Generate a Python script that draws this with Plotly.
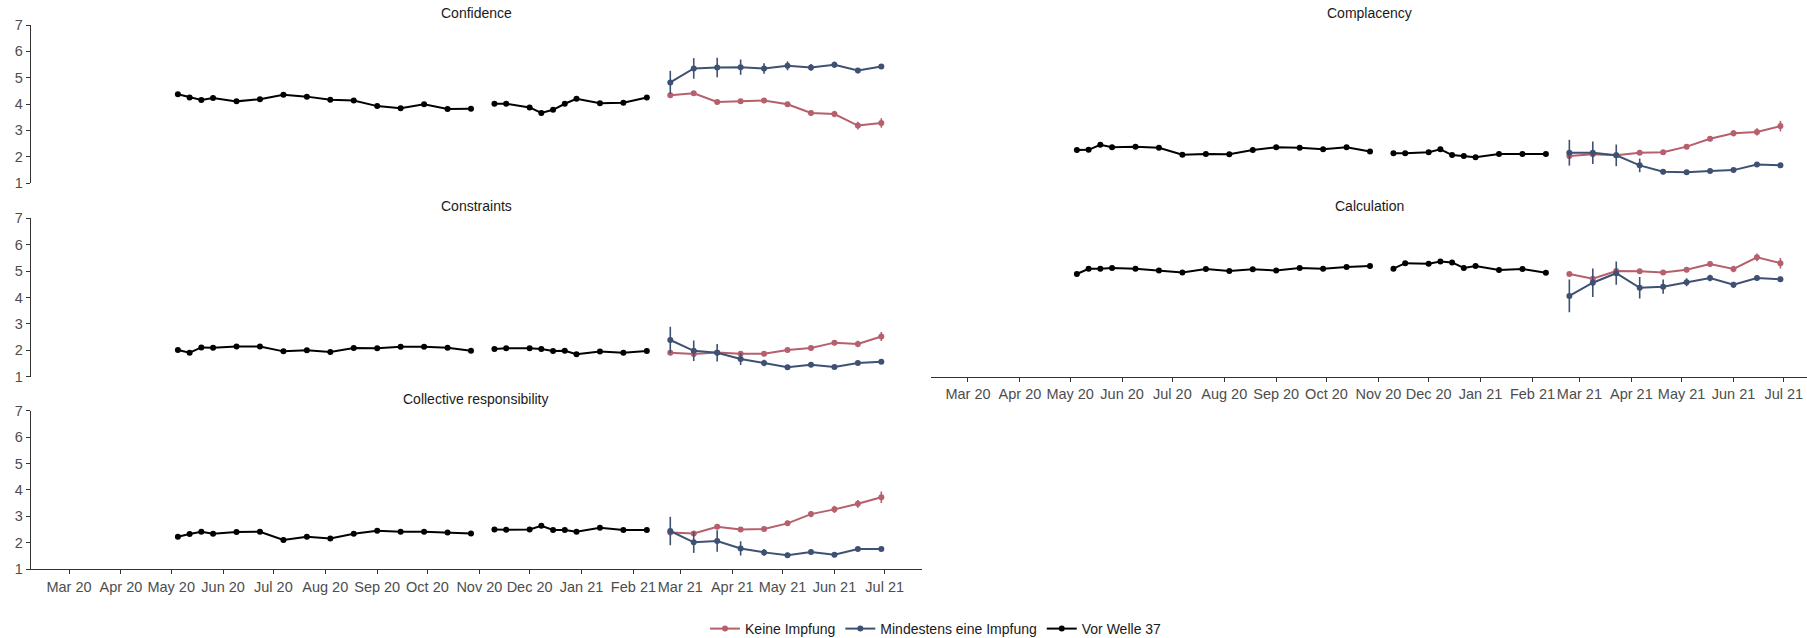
import plotly.graph_objects as go

# Survey dates (weekly / bi-weekly waves)
dates_before = ["2020-05-05", "2020-05-12", "2020-05-19", "2020-05-26", "2020-06-09",
                "2020-06-23", "2020-07-07", "2020-07-21", "2020-08-04", "2020-08-18",
                "2020-09-01", "2020-09-15", "2020-09-29", "2020-10-13", "2020-10-27",
                "2020-11-03", "2020-11-10", "2020-11-17", "2020-12-01", "2020-12-08",
                "2020-12-15", "2020-12-22", "2020-12-29", "2021-01-12", "2021-01-26",
                "2021-02-09"]
dates_split = ["2021-02-23", "2021-03-09", "2021-03-23", "2021-04-06", "2021-04-20",
               "2021-05-04", "2021-05-18", "2021-06-01", "2021-06-15", "2021-06-29"]

# Means before wave 37 (None = wave without data)
conf_before = [4.37, 4.25, 4.15, 4.23, 4.10, 4.18, 4.35, 4.28, 4.16, 4.13, 3.92, 3.84, 3.99,
               3.81, 3.82, None, 4.01, 4.01, 3.87, 3.66, 3.78, 4.01, 4.20, 4.03, 4.05, 4.25]
constr_before = [2.01, 1.91, 2.11, 2.10, 2.14, 2.14, 1.96, 2.00, 1.94, 2.09, 2.08, 2.13, 2.13,
                 2.10, 1.98, None, 2.05, 2.08, 2.08, 2.05, 1.97, 1.98, 1.85, 1.95, 1.91, 1.97]
coll_before = [2.22, 2.33, 2.41, 2.34, 2.40, 2.41, 2.10, 2.22, 2.16, 2.34, 2.45, 2.41, 2.41,
               2.38, 2.35, None, 2.50, 2.49, 2.50, 2.64, 2.48, 2.48, 2.41, 2.56, 2.48, 2.48]
compl_before = [2.25, 2.26, 2.45, 2.36, 2.38, 2.34, 2.07, 2.10, 2.09, 2.25, 2.36, 2.34, 2.28,
                2.36, 2.20, None, 2.13, 2.13, 2.17, 2.28, 2.06, 2.03, 1.98, 2.10, 2.10, 2.10]
calc_before = [4.89, 5.09, 5.09, 5.12, 5.09, 5.02, 4.95, 5.08, 5.00, 5.07, 5.02, 5.12, 5.09,
               5.16, 5.19, None, 5.09, 5.30, 5.28, 5.36, 5.33, 5.12, 5.19, 5.04, 5.08, 4.94]
err_before = [0.06] * len(dates_before)

# Means from wave 37 on, by vaccination status
conf_none = [4.33, 4.41, 4.08, 4.10, 4.13, 3.99, 3.66, 3.62, 3.18, 3.28]
conf_none_err = [0.07, 0.08, 0.08, 0.08, 0.08, 0.09, 0.10, 0.12, 0.15, 0.18]
conf_vacc = [4.82, 5.35, 5.39, 5.40, 5.35, 5.45, 5.39, 5.49, 5.27, 5.42]
conf_vacc_err = [0.44, 0.39, 0.37, 0.29, 0.20, 0.17, 0.13, 0.12, 0.10, 0.09]

constr_none = [1.91, 1.86, 1.92, 1.87, 1.87, 2.01, 2.09, 2.29, 2.24, 2.52]
constr_none_err = [0.05, 0.06, 0.06, 0.07, 0.07, 0.08, 0.09, 0.10, 0.12, 0.17]
constr_vacc = [2.39, 1.98, 1.91, 1.67, 1.52, 1.36, 1.45, 1.37, 1.52, 1.57]
constr_vacc_err = [0.50, 0.39, 0.33, 0.23, 0.12, 0.08, 0.07, 0.07, 0.07, 0.06]

coll_none = [2.38, 2.35, 2.60, 2.50, 2.52, 2.73, 3.08, 3.26, 3.47, 3.72]
coll_none_err = [0.07, 0.08, 0.08, 0.08, 0.09, 0.10, 0.12, 0.14, 0.15, 0.22]
coll_vacc = [2.44, 2.01, 2.06, 1.78, 1.63, 1.52, 1.64, 1.54, 1.76, 1.76]
coll_vacc_err = [0.54, 0.40, 0.41, 0.27, 0.13, 0.10, 0.08, 0.08, 0.08, 0.08]

compl_none = [2.03, 2.09, 2.05, 2.15, 2.17, 2.38, 2.68, 2.89, 2.94, 3.16]
compl_none_err = [0.06, 0.07, 0.07, 0.08, 0.08, 0.09, 0.10, 0.12, 0.14, 0.20]
compl_vacc = [2.15, 2.15, 2.05, 1.67, 1.43, 1.41, 1.46, 1.49, 1.70, 1.67]
compl_vacc_err = [0.49, 0.43, 0.41, 0.26, 0.10, 0.08, 0.07, 0.07, 0.07, 0.06]

calc_none = [4.89, 4.71, 5.00, 4.99, 4.95, 5.05, 5.27, 5.08, 5.52, 5.30]
calc_none_err = [0.07, 0.08, 0.08, 0.08, 0.08, 0.09, 0.10, 0.12, 0.15, 0.20]
calc_vacc = [4.06, 4.56, 4.92, 4.37, 4.41, 4.58, 4.74, 4.48, 4.74, 4.69]
calc_vacc_err = [0.62, 0.54, 0.44, 0.41, 0.27, 0.15, 0.12, 0.12, 0.10, 0.10]

panel_titles = ["Confidence", "Constraints", "Collective responsibility",
                "Complacency", "Calculation"]
series_names = ["Keine Impfung", "Mindestens eine Impfung", "Vor Welle 37"]
month_ticks = ["2020-03-01", "2020-04-01", "2020-05-01", "2020-06-01", "2020-07-01",
               "2020-08-01", "2020-09-01", "2020-10-01", "2020-11-01", "2020-12-01",
               "2021-01-01", "2021-02-01", "2021-03-01", "2021-04-01", "2021-05-01",
               "2021-06-01", "2021-07-01"]
month_labels = ["Mar 20", "Apr 20", "May 20", "Jun 20", "Jul 20", "Aug 20", "Sep 20",
                "Oct 20", "Nov 20", "Dec 20", "Jan 21", "Feb 21", "Mar 21", "Apr 21",
                "May 21", "Jun 21", "Jul 21"]

RED = "#B65F6D"
BLUE = "#3E5172"
BLACK = "#000000"
FONT = "Liberation Sans, Arial, sans-serif"
W, H = 1807, 638

panels = [
    (conf_before, conf_none, conf_none_err, conf_vacc, conf_vacc_err),
    (constr_before, constr_none, constr_none_err, constr_vacc, constr_vacc_err),
    (coll_before, coll_none, coll_none_err, coll_vacc, coll_vacc_err),
    (compl_before, compl_none, compl_none_err, compl_vacc, compl_vacc_err),
    (calc_before, calc_none, calc_none_err, calc_vacc, calc_vacc_err),
]

# Panel geometry in pixels: (x0, x1, y_top, y_bottom)
left_x = (31, 922)
right_x = (931, 1807)
rows = [(25, 183), (218.3, 376.7), (410.7, 569)]
geom = [
    (left_x, rows[0]), (left_x, rows[1]), (left_x, rows[2]),
    (right_x, rows[0]), (right_x, rows[1]),
]
left_range = ["2020-02-07 07:00", "2021-07-23 07:00"]
right_range = ["2020-02-07 22:00", "2021-07-14 21:00"]

fig = go.Figure()


def add_series(i, x, y, err, color, name, show):
    ax = "" if i == 0 else str(i + 1)
    fig.add_trace(go.Scatter(
        x=x, y=y, mode="lines+markers", name=name,
        legendgroup=name, showlegend=show,
        line=dict(color=color, width=2),
        marker=dict(color=color, size=6, symbol="circle"),
        error_y=dict(type="data", array=err, visible=True, color=color,
                     thickness=1.6, width=0),
        xaxis="x" + ax, yaxis="y" + ax, connectgaps=False,
        hoverinfo="x+y",
    ))


for i, (before, none_v, none_e, vacc_v, vacc_e) in enumerate(panels):
    show = i == 0
    add_series(i, dates_split, none_v, none_e, RED, series_names[0], show)
    add_series(i, dates_split, vacc_v, vacc_e, BLUE, series_names[1], show)
    add_series(i, dates_before, before, err_before, BLACK, series_names[2], show)

layout = dict(
    width=W, height=H,
    margin=dict(l=0, r=0, t=0, b=0, autoexpand=False),
    paper_bgcolor="white", plot_bgcolor="white",
    font=dict(family=FONT, size=14, color="#1A1A1A"),
    showlegend=True,
    legend=dict(orientation="h", x=0.518, y=1 - 629 / H, xanchor="center",
                yanchor="middle", font=dict(size=14, color="#1A1A1A"),
                itemwidth=30, tracegroupgap=0, bgcolor="rgba(0,0,0,0)"),
    annotations=[],
)

for i, ((x0, x1), (yt, yb)) in enumerate(geom):
    ax = "" if i == 0 else str(i + 1)
    bottom = i in (2, 4)
    left = i < 3
    layout["xaxis" + ax] = dict(
        domain=[x0 / W, x1 / W], anchor="y" + ax, type="date",
        range=left_range if left else right_range,
        showgrid=False, zeroline=False,
        showline=bottom, linecolor="#333333", linewidth=1.3,
        ticks="outside" if bottom else "", ticklen=4, tickwidth=1.2,
        tickcolor="#333333", tickangle=0, ticklabeloverflow="allow",
        tickvals=month_ticks, ticktext=month_labels,
        showticklabels=bottom,
        tickfont=dict(size=14.5, color="#4D4D4D", family=FONT),
    )
    layout["yaxis" + ax] = dict(
        domain=[1 - yb / H, 1 - yt / H], anchor="x" + ax,
        range=[1, 7], showgrid=False, zeroline=False,
        showline=left, linecolor="#333333", linewidth=1.3,
        ticks="outside" if left else "", ticklen=4, tickwidth=1.2,
        tickcolor="#333333",
        tickvals=[1, 2, 3, 4, 5, 6, 7], showticklabels=left,
        tickfont=dict(size=14.5, color="#4D4D4D", family=FONT),
    )
    layout["annotations"].append(dict(
        text=panel_titles[i], xref="paper", yref="paper",
        x=(x0 + x1) / 2 / W, y=1 - (yt - 12) / H,
        xanchor="center", yanchor="middle", showarrow=False,
        font=dict(size=14, color="#1A1A1A", family=FONT),
    ))

fig.update_layout(**layout)
fig.write_html("out.html")
